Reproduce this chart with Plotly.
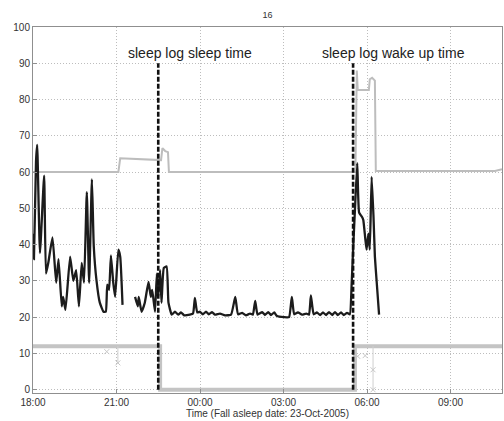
import pandas as pd
import plotly.graph_objects as go

BASE = pd.Timestamp("2005-10-23 18:00")

# ---- data (minutes after 18:00 on 23-Oct-2005) ----
hr_min = [0, 2, 6.5, 9, 15, 24, 28, 33, 42, 50, 55, 62, 65, 70, 80, 87, 93, 99, 105, 110,
          116, 121, 127, 131, 137, 144, 152, 157, 160, 164, 168, 173, 177, 184, 188, 193,
          None,
          220, 226, 228, 234, 241, 249, 254, 257, 263, 267, 270, 274, 277, 282, 288, 292, 299,
          306, 313, 319, 326, 338, 345, 349, 354, 360, 366, 373, 379, 386, 392, 403, 414, 427,
          436, 442, 451, 459, 468, 474, 479, 484, 494, 500, 507, 513, 520, 526, 541, 552, 558,
          563, 571, 580, 589, 595, 599, 605, 612, 619, 625, 632, 638, 645, 651, 657, 664, 670,
          677, 683, 687, 690, 694, 699, 703, 709, 712, 716, 719, 723, 726, 730, 734, 737, 741, 746]
hr_val = [43, 36, 63, 67.5, 37.7, 59, 32, 35, 42, 29.5, 36, 23, 25.6, 22, 36.7, 30, 33, 23, 35, 29.5,
          54.5, 29.5, 58, 39.5, 30, 24, 21.5, 21.5, 29, 27.5, 37, 29.5, 25.6, 38.6, 36.7, 23.4,
          None,
          25.6, 23, 25.6, 21.5, 24, 29.7, 25.6, 27.5, 21.5, 32, 25.6, 33, 24, 33.6, 34, 24, 20.7,
          21.5, 20.7, 21.3, 20.5, 20.7, 21, 25.3, 21.3, 21.5, 20.8, 21.5, 20.8, 21.4, 20.7, 21, 20.5, 20.7,
          25.6, 20.8, 21.2, 20.5, 21, 20.7, 24.5, 20.7, 21.4, 20.6, 21.4, 20.6, 21.3, 20.3, 20, 20, 25.6,
          20.8, 21.3, 20.7, 21, 20.7, 26, 20.8, 21.3, 20.6, 21.3, 20.6, 21.4, 20.6, 21.4, 20.6, 21.3, 20.6,
          21.2, 20.8, 29.5, 38.6, 49.6, 62.5, 48.8, 47.7, 46.8, 42, 38.6, 43, 38.6, 58.7, 47.7, 36.7, 29.5, 20.7]

act_min = [0, 184, 188, 231, 274, 276, 279, 285, 291, 293, 695, 698, 700, 724, 726, 731, 737, 739, 996, 1011]
act_val = [60, 60, 63.8, 63.5, 63.3, 63.3, 66.6, 65.8, 65.5, 60, 60, 88, 82.6, 82.6, 85.6, 86, 85.2, 60.3, 60.3, 60.8]

band_min = [0, 274, 274, 694, 694, 1011]
band_val = [12, 12, 0, 0, 12, 12]

cross_min = [159, 183, 700, 716, 733, 733]
cross_val = [10.5, 7.4, 9.2, 9.4, 5.5, 0]

stem_min = [183, 183, None, 733, 733]
stem_val = [12, 7.4, None, 12, 0]

sleep_log_min = [270, 690]
sleep_log_labels = ["sleep log sleep time", "sleep log wake up time"]
label_min = [200, 619]

x_ticks_min = [0, 180, 360, 540, 720, 900]
x_end_min = 1011
y_ticks = list(range(0, 101, 10))


def to_time(mins):
    return [None if m is None else BASE + pd.Timedelta(minutes=m) for m in mins]


FONT = "Liberation Sans, Arial"

fig = go.Figure()

fig.add_trace(go.Scatter(x=to_time(band_min), y=band_val, mode="lines",
                         line=dict(color="#c4c4c4", width=4), showlegend=False))
fig.add_trace(go.Scatter(x=to_time(stem_min), y=stem_val, mode="lines",
                         line=dict(color="#cfcfcf", width=1), showlegend=False))
fig.add_trace(go.Scatter(x=to_time(cross_min), y=cross_val, mode="markers",
                         marker=dict(symbol="x-thin", size=5, line=dict(color="#c8c8c8", width=1)),
                         showlegend=False))
fig.add_trace(go.Scatter(x=to_time(act_min), y=act_val, mode="lines",
                         line=dict(color="#bdbdbd", width=2), showlegend=False))
fig.add_trace(go.Scatter(x=to_time(hr_min), y=hr_val, mode="lines", connectgaps=False,
                         line=dict(color="#1c1c1c", width=2.3, shape="spline", smoothing=0.4),
                         showlegend=False))

for m in sleep_log_min:
    fig.add_trace(go.Scatter(x=to_time([m, m]), y=[0, 90], mode="lines",
                             line=dict(color="#111111", width=2.6, dash="5px,2px"),
                             showlegend=False))

for m, txt in zip(label_min, sleep_log_labels):
    fig.add_annotation(x=to_time([m])[0], y=92.8, text=txt, showarrow=False,
                       xanchor="left", yanchor="middle",
                       font=dict(family=FONT, size=14, color="#222222"))

grid = dict(showgrid=True, gridcolor="#bdbdbd", griddash="1px,2px", gridwidth=1,
            showline=True, linecolor="#8f8f8f", linewidth=1, mirror=True,
            ticks="inside", ticklen=4, tickcolor="#8f8f8f",
            tickfont=dict(family=FONT, size=10, color="#333333"),
            zeroline=False, automargin=False)

fig.update_xaxes(type="date", range=to_time([0, x_end_min]),
                 tickvals=to_time(x_ticks_min), tickformat="%H:%M",
                 title=dict(text="Time (Fall asleep date: 23-Oct-2005)", standoff=0,
                            font=dict(family=FONT, size=10, color="#333333")),
                 **grid)
fig.update_yaxes(range=[-0.9, 100], tickvals=y_ticks, **grid)

fig.update_layout(
    width=504, height=421,
    margin=dict(l=33, r=2, t=27, b=28, autoexpand=False),
    plot_bgcolor="white", paper_bgcolor="white",
    title=dict(text="16", x=0.531, xanchor="center", y=1 - 15 / 421, yanchor="middle",
               yref="container", automargin=False,
               font=dict(family=FONT, size=9, color="#333333")),
)

fig.write_html("out.html", config={"displayModeBar": False},
               post_script="document.body.style.margin='0';document.body.style.overflow='hidden';")
